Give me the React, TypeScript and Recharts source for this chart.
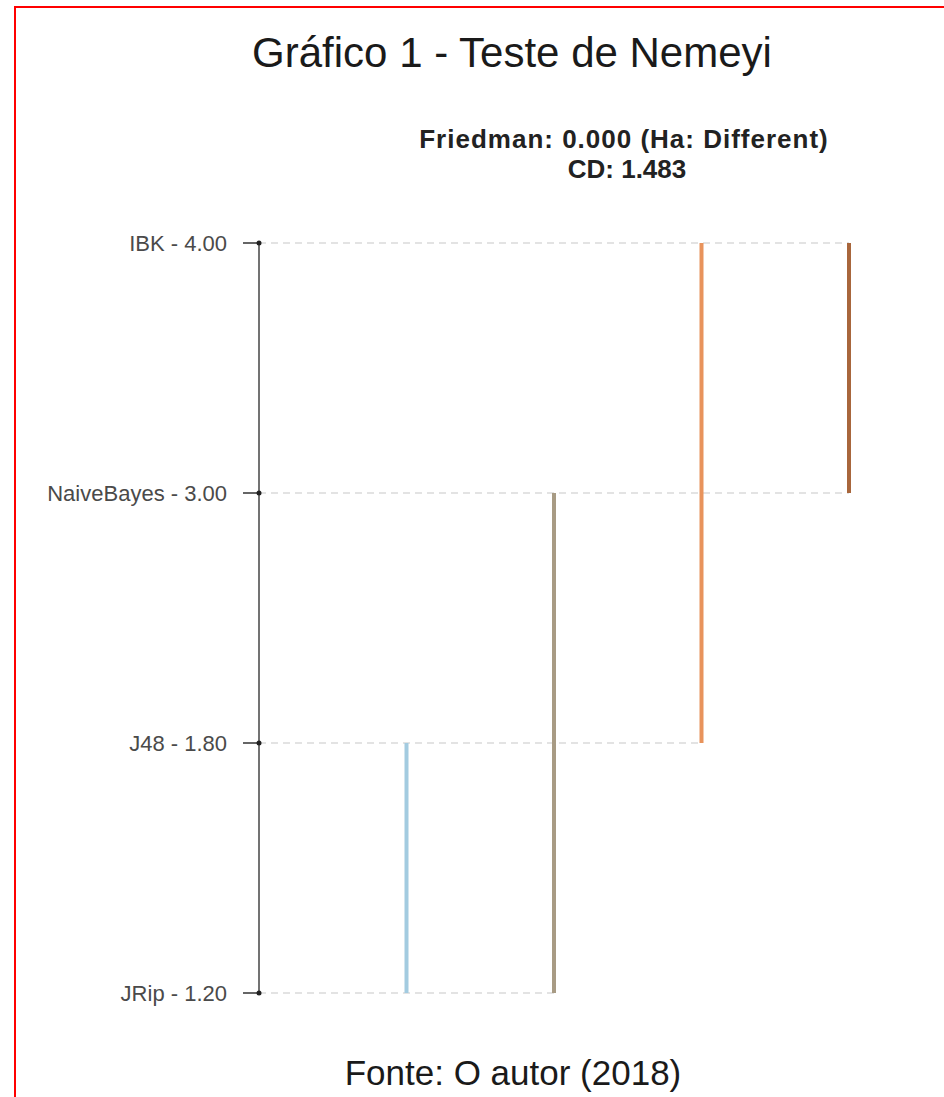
import React from 'react';
import { ComposedChart, Scatter, XAxis, YAxis } from 'recharts';

// algorithms ordered by mean rank (bottom to top)
const algorithms = ['JRip', 'J48', 'NaiveBayes', 'IBK'];
const meanRanks = [1.2, 1.8, 3.0, 4.0];

// groups of algorithms not significantly different (Nemenyi CD bars)
const groupFrom = ['JRip', 'JRip', 'J48', 'NaiveBayes'];
const groupTo = ['J48', 'NaiveBayes', 'IBK', 'IBK'];
const groupColors = ['#a3cbe0', '#a89b84', '#e8935c', '#a8663c'];

const FONT = '"Liberation Sans", Arial, sans-serif';

const rowIndex = (name: string) => algorithms.indexOf(name);

// each group bar sits at x = group number, spanning its rows
const groupLines = groupFrom.map((from, i) => ({
  color: groupColors[i],
  points: [
    { x: i + 1, y: rowIndex(from) },
    { x: i + 1, y: rowIndex(groupTo[i]) },
  ],
}));

// dashed guide for each row runs out to the last group bar touching it
const guideLines = algorithms.map((name, r) => {
  let last = 0;
  groupFrom.forEach((from, g) => {
    if (rowIndex(from) <= r && rowIndex(groupTo[g]) >= r) last = g + 1;
  });
  return [
    { x: 0, y: r },
    { x: last, y: r },
  ];
});

const tickDots = algorithms.map((_, r) => ({ x: 0, y: r }));

const formatTick = (v: number) => `${algorithms[v]} - ${meanRanks[v].toFixed(2)}`;

const noShape = () => <g />;

const App: React.FC = () => {
  return (
    <div style={{ position: 'absolute', left: 0, top: 0, width: 944, height: 1097, background: '#fff', overflow: 'hidden' }}>
      <div
        style={{
          position: 'absolute',
          left: 14,
          top: 6,
          right: 0,
          bottom: 0,
          borderLeft: '2px solid #ff0000',
          borderTop: '2px solid #ff0000',
        }}
      />
      <div style={{ position: 'absolute', left: 0, top: 0 }}>
        <ComposedChart width={944} height={1097} margin={{ top: 243, right: 95, bottom: 104, left: 0 }}>
          <XAxis type="number" dataKey="x" domain={[0, 4]} hide />
          <YAxis
            type="number"
            dataKey="y"
            domain={[0, 3]}
            ticks={[0, 1, 2, 3]}
            tickFormatter={formatTick}
            width={259}
            tickSize={16}
            tickMargin={16}
            axisLine={{ stroke: '#444', strokeWidth: 1.5 }}
            tickLine={{ stroke: '#333', strokeWidth: 1.5 }}
            tick={{ fontSize: 22, fill: '#4a4a4a', fontFamily: FONT }}
          />
          {guideLines.map((pts, i) => (
            <Scatter
              key={`guide-${i}`}
              data={pts}
              shape={noShape}
              line={{ stroke: '#c8c8c8', strokeWidth: 1.2, strokeDasharray: '7 5' }}
              isAnimationActive={false}
            />
          ))}
          {groupLines.map((g, i) => (
            <Scatter
              key={`group-${i}`}
              data={g.points}
              shape={noShape}
              line={{ stroke: g.color, strokeWidth: 4 }}
              isAnimationActive={false}
            />
          ))}
          <Scatter data={tickDots} fill="#222" shape={(p: any) => <circle cx={p.cx} cy={p.cy} r={2.5} fill="#222" />} isAnimationActive={false} />
        </ComposedChart>
      </div>
      <svg width={944} height={1097} style={{ position: 'absolute', left: 0, top: 0, pointerEvents: 'none' }}>
        <text x={512} y={67} textAnchor="middle" fontSize={42} fill="#1a1a1a" fontFamily={FONT}>
          Gráfico 1 - Teste de Nemeyi
        </text>
        <text x={624} y={148} textAnchor="middle" fontSize={26} fontWeight="bold" fill="#222" fontFamily={FONT} letterSpacing={1}>
          Friedman: 0.000 (Ha: Different)
        </text>
        <text x={627} y={178} textAnchor="middle" fontSize={26} fontWeight="bold" fill="#222" fontFamily={FONT}>
          CD: 1.483
        </text>
        <text x={513} y={1085} textAnchor="middle" fontSize={35} fill="#1a1a1a" fontFamily={FONT}>
          Fonte: O autor (2018)
        </text>
      </svg>
    </div>
  );
};

export default App;
